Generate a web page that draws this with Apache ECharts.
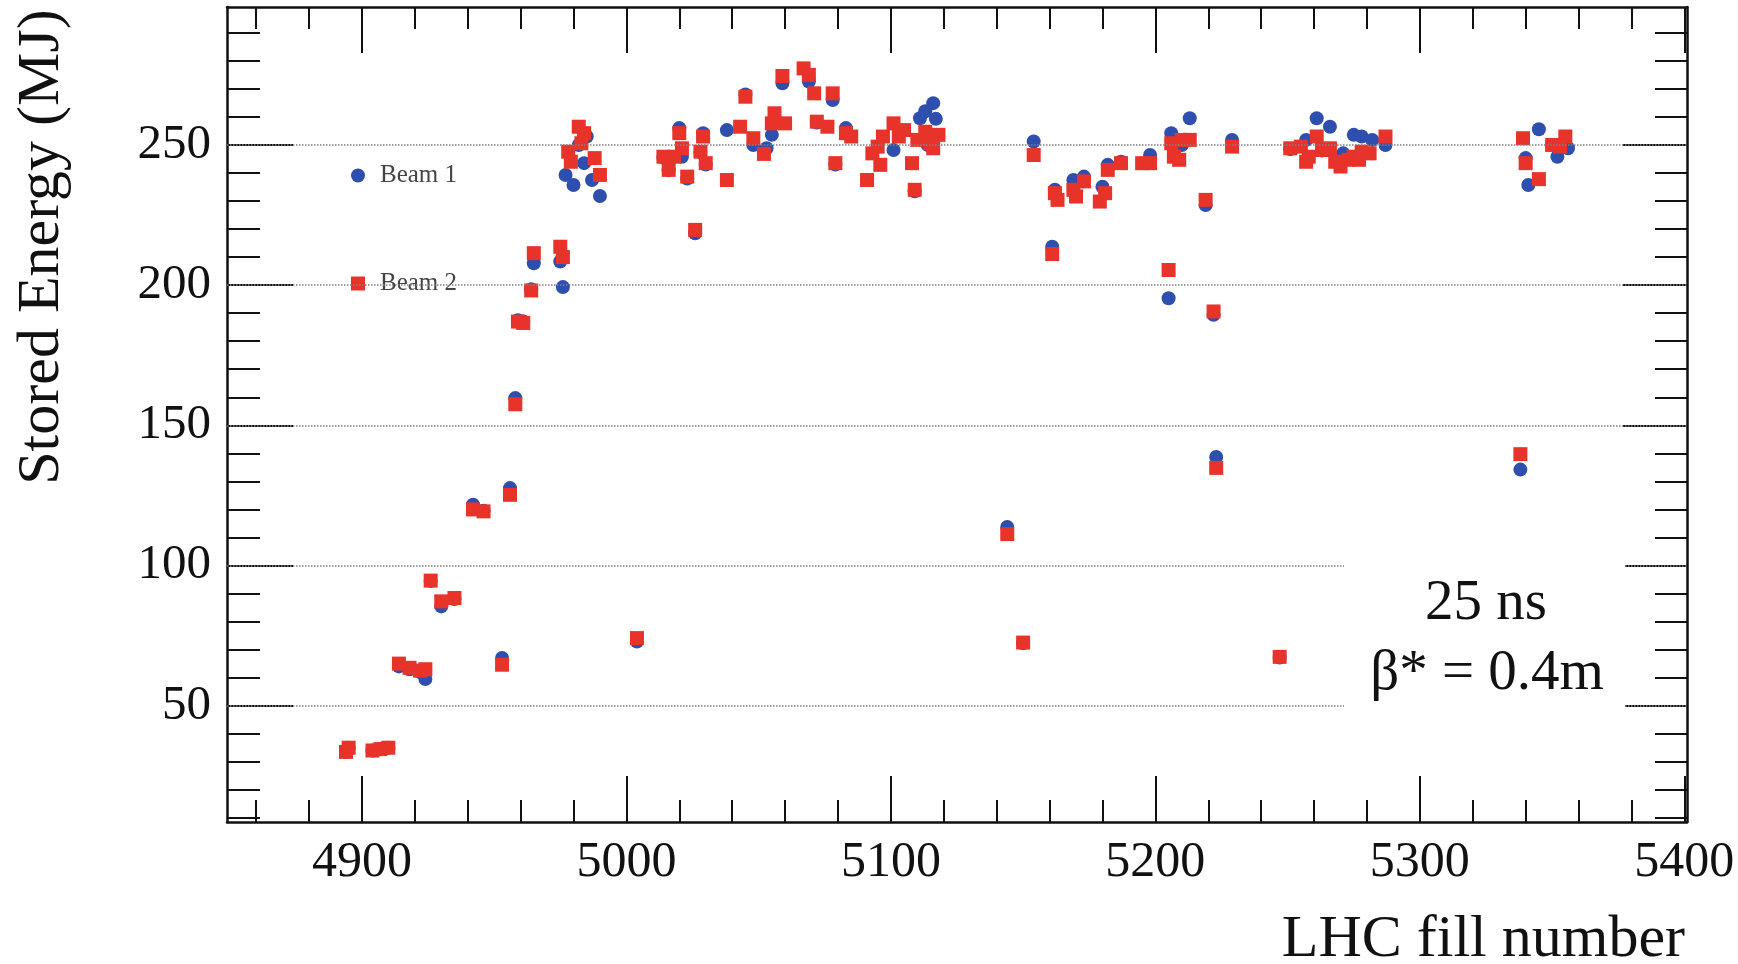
<!DOCTYPE html>
<html>
<head>
<meta charset="utf-8">
<script src="https://cdn.jsdelivr.net/npm/echarts@6/dist/echarts.min.js"></script>
<style>
html, body { margin: 0; padding: 0; background: #fff; }
#stored-energy { width: 1738px; height: 964px; }
</style>
</head>
<body>
<div id="stored-energy"></div>
<script>
// LHC fill number vs stored energy (MJ)
const beam1 = [
  [4894, 33.5], [4895, 35], [4904, 34], [4907, 34.5], [4910, 35],
  [4914, 64], [4918, 63], [4922, 62], [4924, 59.5], [4926, 94.5],
  [4930, 85.4], [4935, 88], [4942, 121.7], [4946, 119.5], [4953, 67],
  [4956, 127.6], [4958, 159.7], [4959, 187.5], [4961, 187], [4964, 198.5],
  [4965, 207.8], [4975, 208.4], [4976, 199.3], [4977, 239.3], [4980, 235.7],
  [4982, 250], [4984, 243.5], [4985, 253], [4987, 237.5], [4990, 231.8],
  [5004, 72.9],
  [5014, 245.5], [5016, 241], [5020, 256], [5021, 245.8], [5023, 238],
  [5026, 218.5], [5028, 247.5], [5029, 254.2], [5030, 243],
  [5038, 255.3], [5045, 268], [5048, 250], [5053, 248.8], [5055, 253.6],
  [5059, 272], [5069, 272.6], [5072, 258], [5078, 266], [5079, 243],
  [5083, 256], [5091, 237.5], [5101, 248.2], [5109, 233.5], [5111, 259.5],
  [5113, 262], [5114, 250], [5116, 264.9], [5117, 259.3],
  [5144, 113.7], [5150, 72.3], [5154, 251.2], [5161, 213.7], [5162, 234],
  [5169, 237.5], [5173, 238.7], [5180, 235.1], [5182, 242.9], [5187, 244],
  [5198, 246.4], [5205, 195.3], [5206, 254.2], [5210, 250], [5213, 259.5],
  [5219, 228.6], [5222, 189.4], [5223, 138.7], [5229, 251.8], [5247, 67.2],
  [5251, 248.5], [5257, 251.8], [5261, 259.5], [5263, 248], [5266, 256.5],
  [5271, 247], [5275, 253.6], [5278, 253], [5282, 251.8], [5287, 250],
  [5338, 134.2], [5340, 245.3], [5341, 235.7], [5345, 255.6], [5350, 250],
  [5352, 245.8], [5356, 248.8]
];
const beam2 = [
  [4894, 33.5], [4895, 35], [4904, 34], [4907, 34.5], [4910, 35],
  [4914, 65], [4918, 63.5], [4922, 62.5], [4924, 63], [4926, 94.6],
  [4930, 87.2], [4935, 88.4], [4942, 120], [4946, 119.3], [4953, 64.6],
  [4956, 125.2], [4958, 157.5], [4959, 187], [4961, 186.5], [4964, 198.1],
  [4965, 211.4], [4975, 213.7], [4976, 210], [4978, 247.6], [4979, 244],
  [4982, 256.5], [4983, 250.6], [4984, 254.2], [4988, 245.3], [4990, 239.3],
  [5004, 74.1],
  [5014, 245.8], [5016, 241.1], [5018, 245.8], [5020, 254.2], [5021, 248.8],
  [5023, 238.7], [5026, 219.7], [5028, 247.6], [5029, 253], [5030, 243.5],
  [5038, 237.5], [5043, 256.5], [5045, 267.2], [5048, 252.4], [5052, 246.8],
  [5055, 257.7], [5056, 261.3], [5059, 274.6], [5060, 257.7],
  [5067, 277.3], [5069, 275], [5071, 268.4], [5072, 258.3], [5076, 256.5],
  [5078, 268.4], [5079, 243.5], [5083, 254.2], [5085, 253],
  [5091, 237.5], [5093, 247], [5095, 249.4], [5096, 242.9], [5097, 253],
  [5101, 257.7], [5103, 253], [5105, 255.3], [5108, 243.5], [5109, 234],
  [5110, 251.8], [5113, 254.7], [5115, 250.6], [5116, 248.8], [5118, 253.6],
  [5144, 111.2], [5150, 72.5], [5154, 246.4], [5161, 211.1], [5162, 232.8],
  [5163, 230.4], [5169, 234], [5170, 231.6], [5173, 237], [5179, 229.8],
  [5181, 232.8], [5182, 241.1], [5187, 243.5], [5195, 243.5], [5198, 243.5],
  [5205, 205.4], [5206, 250.6], [5207, 245.8], [5209, 244.7], [5210, 251.8],
  [5213, 251.8], [5219, 230.4], [5222, 190.6], [5223, 134.8], [5229, 249.4],
  [5247, 67.4],
  [5251, 248.8], [5255, 249.4], [5257, 244], [5258, 245.8], [5261, 253],
  [5263, 248.2], [5266, 248.8], [5268, 244], [5270, 242.3], [5273, 244.7],
  [5275, 245.8], [5277, 244.7], [5278, 247.6], [5281, 247], [5287, 253],
  [5338, 139.7], [5339, 252.4], [5340, 243.5], [5345, 237.8], [5350, 250],
  [5353, 249.4], [5355, 253]
];
const xMajorTicks = [4900, 5000, 5100, 5200, 5300, 5400];
const xMinorTicks = [4860, 4880, 4920, 4940, 4960, 4980, 5020, 5040, 5060, 5080,
  5120, 5140, 5160, 5180, 5220, 5240, 5260, 5280, 5320, 5340, 5360, 5380];
const yMajorTicks = [50, 100, 150, 200, 250];
const yMinorTicks = [10, 20, 30, 40, 60, 70, 80, 90, 110, 120, 130, 140, 160, 170,
  180, 190, 210, 220, 230, 240, 260, 270, 280, 290];
const gridValues = [50, 100, 150, 200, 250];

const SERIF = "'Liberation Serif', 'DejaVu Serif', serif";
const X_MIN = 4849, X_MAX = 5401;
const Y_MIN = 8.5, Y_MAX = 299.2;

function axisOf(position, min, max, ticks, len, showLine, showLabel, labelSize) {
  return {
    type: "value", position: position, min: min, max: max,
    axisLine: { show: showLine, onZero: false, lineStyle: { color: "#111", width: 2.5 } },
    axisTick: { show: true, inside: true, length: len, customValues: ticks,
      lineStyle: { color: "#111", width: 2 } },
    axisLabel: { show: showLabel, customValues: ticks, margin: 16,
      formatter: v => String(v),
      fontFamily: SERIF, fontSize: labelSize || 49, color: "#111" },
    splitLine: { show: false }
  };
}

const myChart = echarts.init(document.getElementById("stored-energy"));
myChart.setOption({
  animation: false,
  backgroundColor: "#fff",
  grid: { left: 227, right: 51, top: 7, bottom: 142, containLabel: false },
  xAxis: [
    axisOf("bottom", X_MIN, X_MAX, xMajorTicks, 46, true, true, 50),
    axisOf("bottom", X_MIN, X_MAX, xMinorTicks, 22, false, false),
    axisOf("top", X_MIN, X_MAX, xMajorTicks, 46, true, false),
    axisOf("top", X_MIN, X_MAX, xMinorTicks, 22, false, false)
  ],
  yAxis: [
    axisOf("left", Y_MIN, Y_MAX, yMajorTicks, 66, true, true, 49),
    axisOf("left", Y_MIN, Y_MAX, yMinorTicks, 33, false, false),
    axisOf("right", Y_MIN, Y_MAX, yMajorTicks, 64, true, false),
    axisOf("right", Y_MIN, Y_MAX, yMinorTicks, 32, false, false)
  ],
  legend: {
    orient: "vertical",
    left: 346,
    top: 158,
    itemWidth: 14,
    itemHeight: 14,
    itemGap: 83,
    data: [
      { name: "Beam 1", icon: "circle" },
      { name: "Beam 2", icon: "rect" }
    ],
    textStyle: { fontFamily: SERIF, fontSize: 25, color: "#444", padding: [0, 0, 0, 10] }
  },
  series: [
    {
      name: "gridlines",
      type: "scatter",
      data: [],
      silent: true,
      z: 1,
      markLine: {
        silent: true,
        symbol: ["none", "none"],
        label: { show: false },
        lineStyle: { type: "dotted", color: "#808080", width: 1.5 },
        data: gridValues.map(v => ({ yAxis: v }))
      }
    },
    {
      name: "Beam 1",
      type: "scatter",
      symbol: "circle",
      symbolSize: 14,
      itemStyle: { color: "#2f4fae", opacity: 1 },
      data: beam1
    },
    {
      name: "Beam 2",
      type: "scatter",
      symbol: "rect",
      symbolSize: 14,
      itemStyle: { color: "#e8332a", opacity: 1 },
      data: beam2
    }
  ],
  graphic: [
    { type: "rect", z: 10, shape: { x: 1344, y: 551, width: 281, height: 173 },
      style: { fill: "#fff" } },
    { type: "text", z: 11, x: 1486, y: 604,
      style: { text: "25 ns", font: "57px " + SERIF, fill: "#111",
        textAlign: "center", textVerticalAlign: "middle" } },
    { type: "text", z: 11, x: 1487, y: 674,
      style: { text: "β* = 0.4m", font: "57px " + SERIF, fill: "#111",
        textAlign: "center", textVerticalAlign: "middle" } },
    { type: "text", z: 11, x: 42, y: 247, rotation: Math.PI / 2,
      style: { text: "Stored Energy (MJ)", font: "60px " + SERIF, fill: "#111",
        textAlign: "center", textVerticalAlign: "middle" } },
    { type: "text", z: 11, x: 1685, y: 940,
      style: { text: "LHC fill number", font: "60px " + SERIF, fill: "#111",
        textAlign: "right", textVerticalAlign: "middle" } }
  ]
});
</script>
</body>
</html>
